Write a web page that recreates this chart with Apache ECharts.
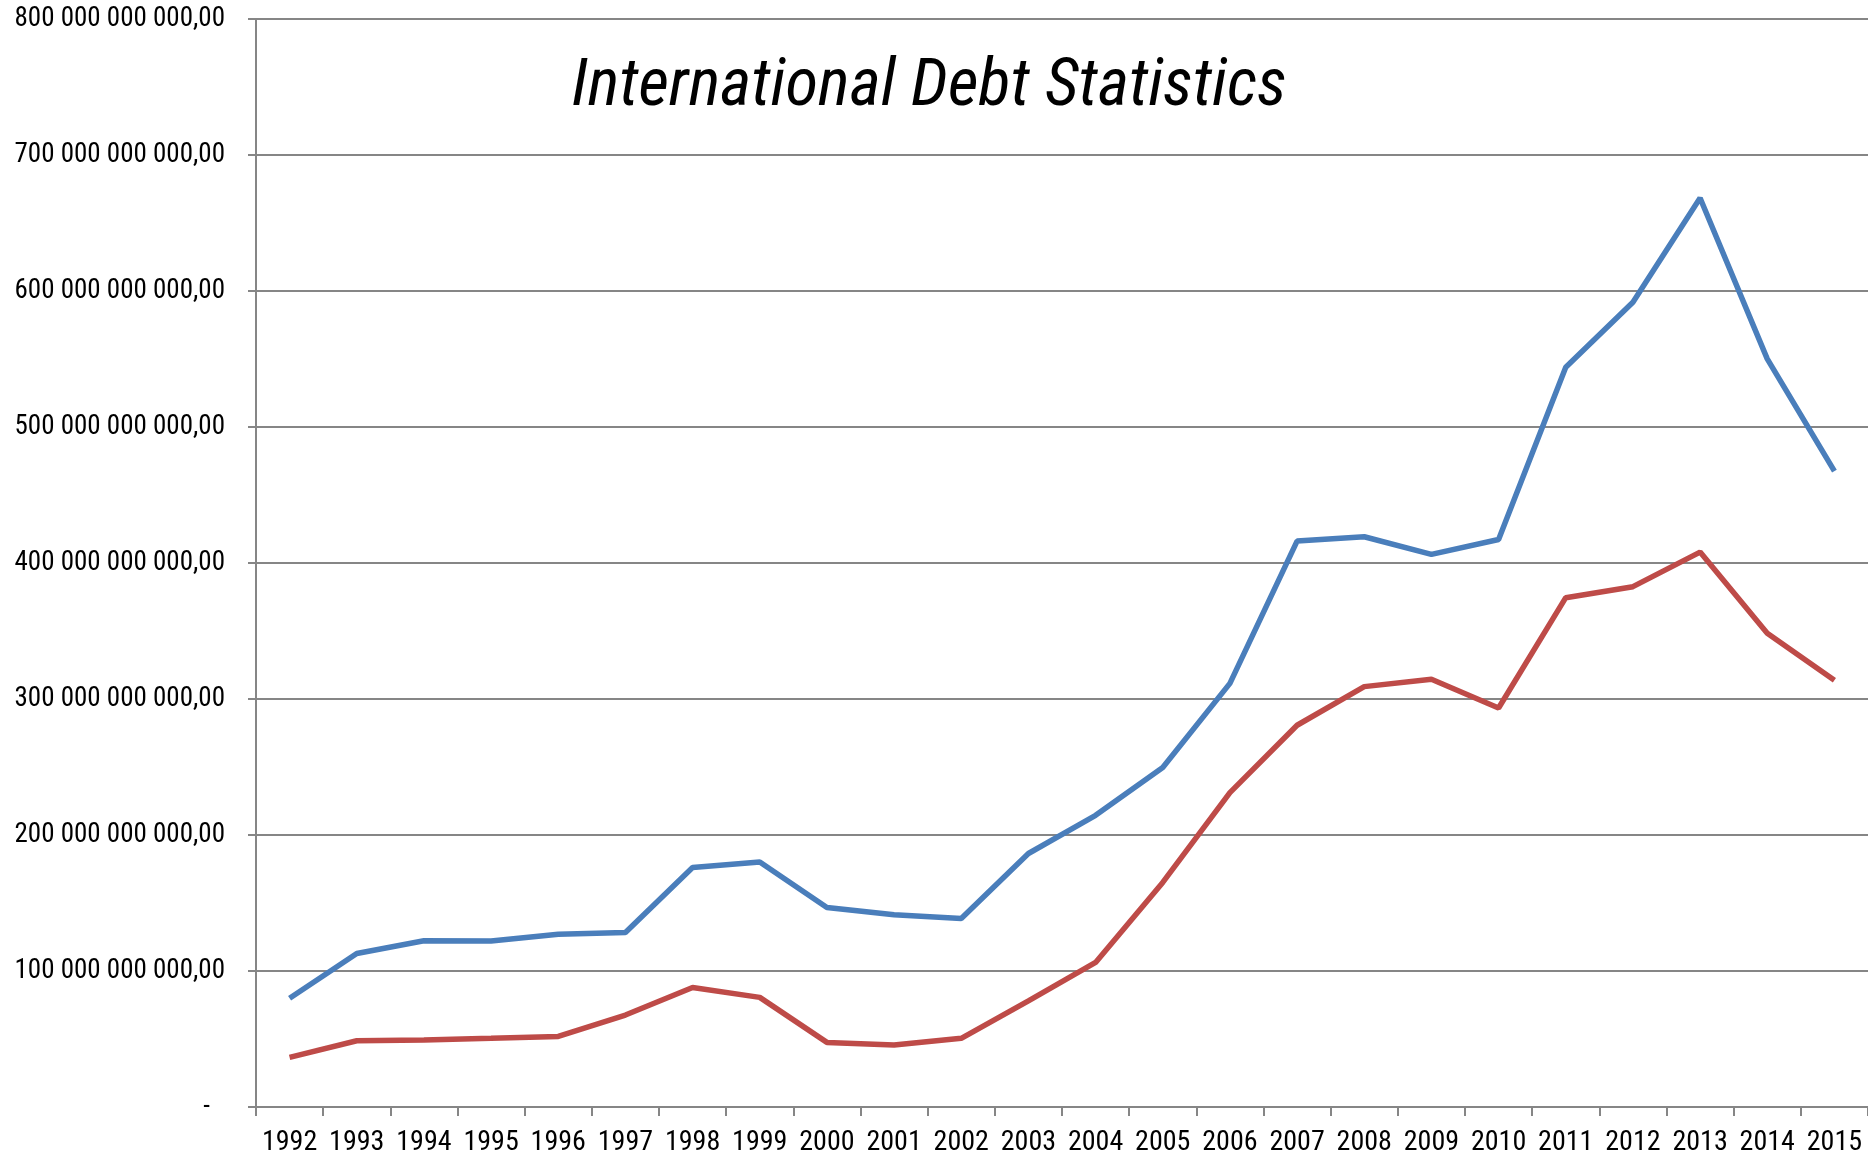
<!DOCTYPE html>
<html>
<head>
<meta charset="utf-8">
<script src="https://cdn.jsdelivr.net/npm/echarts@6/dist/echarts.min.js"></script>
<style>
html,body{margin:0;padding:0;background:#fff;}
#chart{width:1868px;height:1157px;}
</style>
</head>
<body>
<div id="chart"></div>
<script>
var years = ['1992','1993','1994','1995','1996','1997','1998','1999','2000','2001','2002','2003','2004','2005','2006','2007','2008','2009','2010','2011','2012','2013','2014','2015'];
// values in billions
var seriesBlue = [79.9,112.9,122.2,122.0,127.1,128.3,176.1,180.2,146.7,141.3,138.6,186.4,214.5,249.6,311.5,416.1,419.3,406.3,417.3,543.9,591.7,668.4,550.1,467.5];
var seriesRed = [36.5,48.7,49.2,50.5,51.9,67.6,87.9,80.6,47.5,45.6,50.5,78.1,106.3,165.1,231.2,280.7,309.1,314.5,293.4,374.5,382.6,408.0,348.3,313.7];
var yTicks = [0,100,200,300,400,500,600,700,800];
var titleText = 'International Debt Statistics';

var NARROW = '"Liberation Sans Narrow", "Roboto Condensed", Roboto, sans-serif';

function fmt(v){
  if (v === 0) return '{z|-}';
  var n = Math.round(v * 1e9).toString();
  var parts = [];
  while (n.length > 3) { parts.unshift(n.slice(-3)); n = n.slice(0, -3); }
  parts.unshift(n);
  return parts.join(' ') + ',00';
}

var chart = echarts.init(document.getElementById('chart'), null, {renderer:'canvas'});
chart.setOption({
  animation: false,
  backgroundColor: '#ffffff',
  title: {
    text: titleText,
    left: 924,
    top: 50,
    textAlign: 'center',
    textStyle: {fontFamily: NARROW, fontStyle: 'italic', fontWeight: 'normal', fontSize: 67, color: '#000'}
  },
  grid: {left: 256, right: 0, top: 19, bottom: 49, containLabel: false},
  xAxis: {
    type: 'category',
    data: years,
    boundaryGap: true,
    axisLine: {lineStyle: {color: '#868686', width: 2}},
    axisTick: {show: true, length: 9, interval: 0, lineStyle: {color: '#868686', width: 2}},
    axisLabel: {interval: 0, margin: 22, fontFamily: NARROW, fontSize: 28, color: '#000'},
    splitLine: {show: false}
  },
  yAxis: {
    type: 'value',
    min: 0, max: 800, interval: 100,
    axisLine: {show: true, lineStyle: {color: '#868686', width: 2}},
    axisTick: {show: true, length: 8, lineStyle: {color: '#868686', width: 2}},
    axisLabel: {
      margin: 31, fontFamily: NARROW, fontSize: 27, color: '#000',
      formatter: fmt,
      rich: {z: {fontFamily: NARROW, fontSize: 27, color: '#000', padding: [0, 15, 0, 0]}}
    },
    splitLine: {show: true, lineStyle: {color: '#868686', width: 2}}
  },
  series: [
    {type: 'line', data: seriesBlue, symbol: 'none', lineStyle: {color: '#4a7ebb', width: 5.5}, itemStyle: {color: '#4a7ebb'}},
    {type: 'line', data: seriesRed, symbol: 'none', lineStyle: {color: '#be4b48', width: 5.5}, itemStyle: {color: '#be4b48'}}
  ]
});
</script>
</body>
</html>
